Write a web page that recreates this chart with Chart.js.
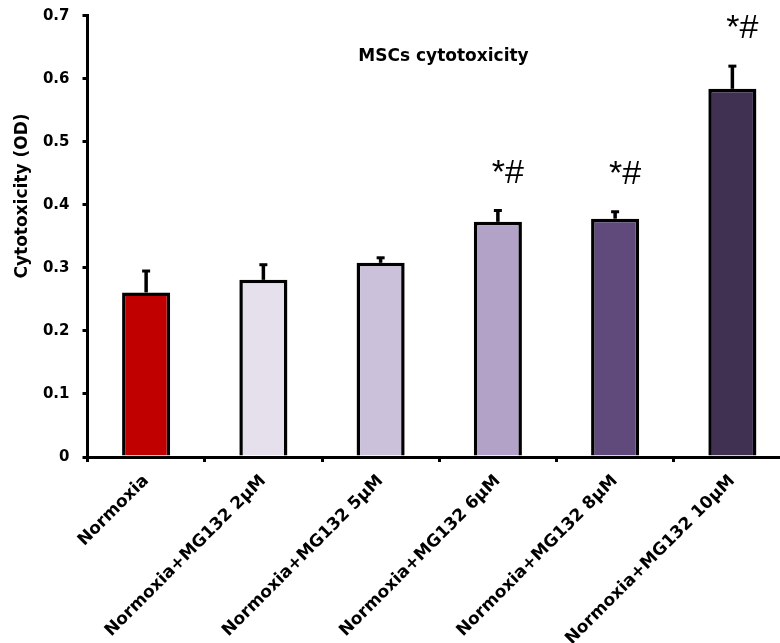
<!DOCTYPE html>
<html><head><meta charset="utf-8">
<script src="https://cdn.jsdelivr.net/npm/chart.js@4.4.1/dist/chart.umd.min.js"></script>
<style>html,body{margin:0;padding:0;overflow:hidden;background:#fff;width:780px;height:643px}canvas{display:block}</style>
</head><body>
<canvas id="c" width="800" height="643"></canvas>
<script>
const categories = ['Normoxia', 'Normoxia+MG132 2μM', 'Normoxia+MG132 5μM', 'Normoxia+MG132 6μM', 'Normoxia+MG132 8μM', 'Normoxia+MG132 10μM'];
const meanValues = [0.261, 0.281, 0.308, 0.373, 0.378, 0.584];
const errorValues = [0.034, 0.024, 0.008, 0.018, 0.011, 0.036];
const significance = ['', '', '', '*#', '*#', '*#'];
const yTickValues = [0, 0.1, 0.2, 0.3, 0.4, 0.5, 0.6, 0.7];
const chartTitle = 'MSCs cytotoxicity';
const yAxisTitle = 'Cytotoxicity (OD)';
const barColors = ['#C00000', '#E6E0EC', '#CCC1DA', '#B3A2C7', '#604A7B', '#403152'];

const FONT = '"DejaVu Sans", sans-serif';

const extras = {
  id: 'extras',
  afterDatasetsDraw(chart) {
    const ctx = chart.ctx;
    const meta = chart.getDatasetMeta(0);
    const ys = chart.scales.y;
    ctx.save();
    ctx.strokeStyle = '#000';
    ctx.fillStyle = '#000';
    meta.data.forEach((bar, i) => {
      const top = ys.getPixelForValue(meanValues[i]);
      const et = ys.getPixelForValue(meanValues[i] + errorValues[i]);
      ctx.lineWidth = 3.5;
      ctx.beginPath();
      ctx.moveTo(bar.x, top);
      ctx.lineTo(bar.x, et);
      ctx.stroke();
      ctx.lineWidth = 3;
      ctx.beginPath();
      ctx.moveTo(bar.x - 4, et);
      ctx.lineTo(bar.x + 4, et);
      ctx.stroke();
      if (significance[i]) {
        ctx.font = '34px "Liberation Sans", Arial, sans-serif';
        ctx.textAlign = 'center';
        ctx.textBaseline = 'alphabetic';
        ctx.fillText(significance[i], bar.x + 10, et - 28);
      }
    });
    ctx.font = 'bold 17px ' + FONT;
    ctx.textAlign = 'center';
    ctx.textBaseline = 'alphabetic';
    ctx.fillText(chartTitle, 443.5, 61);
    ctx.translate(23, 196);
    ctx.rotate(-Math.PI / 2);
    ctx.textBaseline = 'middle';
    ctx.fillText(yAxisTitle, 0, 0);
    ctx.restore();
  }
};

new Chart(document.getElementById('c'), {
  type: 'bar',
  data: {
    labels: categories,
    datasets: [{
      data: meanValues,
      backgroundColor: barColors,
      borderColor: '#000',
      borderWidth: 3.5,
      barPercentage: 0.41,
      categoryPercentage: 1
    }]
  },
  options: {
    responsive: false,
    animation: false,
    devicePixelRatio: 1,
    layout: { padding: { left: 0, top: 15.7, right: 9, bottom: 0 } },
    plugins: { legend: { display: false }, tooltip: { enabled: false }, title: { display: false } },
    scales: {
      x: {
        type: 'category',
        offset: true,
        afterFit(s) { s.height = 186; },
        grid: { offset: true, drawOnChartArea: false, drawTicks: true, tickLength: 5, color: '#000', lineWidth: 3 },
        border: { display: true, color: '#000', width: 3 },
        ticks: { autoSkip: false, minRotation: 45, maxRotation: 45, padding: 9, color: '#000', font: { family: FONT, size: 17, weight: 'bold' } }
      },
      y: {
        min: 0,
        max: 0.7,
        afterFit(s) { s.width = 87.5; s.paddingTop = 5; s.paddingBottom = 5; },
        afterBuildTicks(s) { s.ticks = yTickValues.map(v => ({ value: v })); },
        grid: { drawOnChartArea: false, drawTicks: true, tickLength: 5, color: '#000', lineWidth: 3 },
        border: { display: true, color: '#000', width: 3 },
        ticks: { padding: 13, color: '#000', font: { family: FONT, size: 15, weight: 'bold' }, callback: v => String(v) }
      }
    }
  },
  plugins: [extras]
});
</script>
</body></html>
